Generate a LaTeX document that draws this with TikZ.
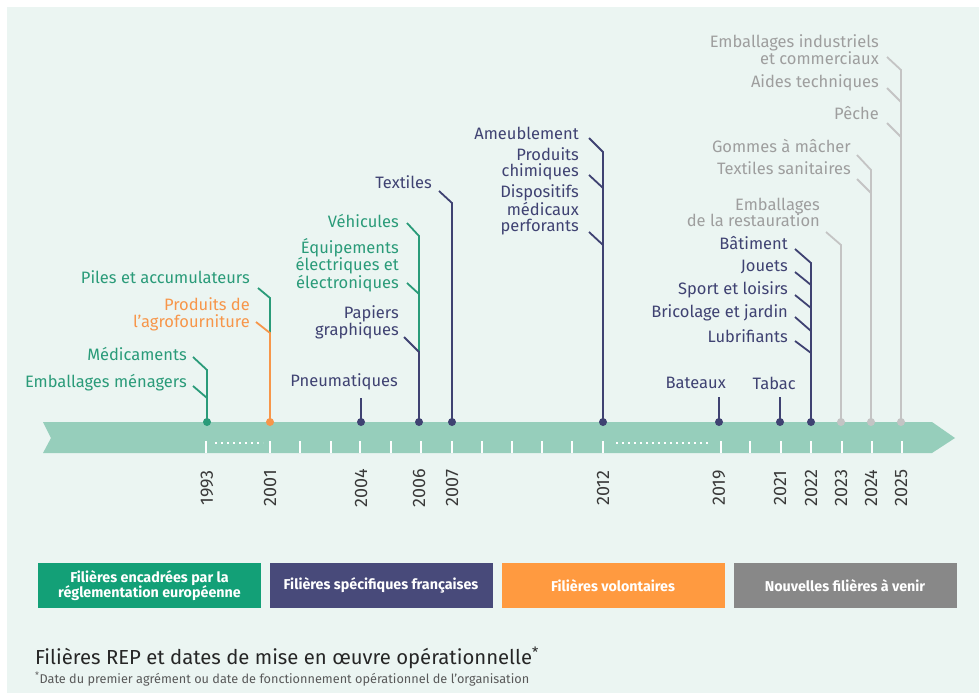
\documentclass[tikz,border=0pt]{standalone}
\usepackage{fontspec}
\setmainfont{Fira Sans}
\definecolor{bg}{HTML}{EBF5F2}
\definecolor{band}{HTML}{96CEBB}
\definecolor{eug}{HTML}{2A9B79}
\definecolor{navy}{HTML}{3F4272}
\definecolor{org}{HTML}{F7964A}
\definecolor{gtxt}{HTML}{9E9E9E}
\definecolor{gln}{HTML}{C4C4C4}
\definecolor{boxg}{HTML}{13A077}
\definecolor{boxn}{HTML}{484A7A}
\definecolor{boxo}{HTML}{FF9A40}
\definecolor{boxgr}{HTML}{888888}
\definecolor{yr}{HTML}{3A3A3A}
\tikzset{
  lbl/.style={anchor=east, inner sep=0pt, align=right, font=\fontsize{16.5}{16.5}\selectfont},
  ldr/.style={line width=1.8pt},
  dotn/.style={circle, inner sep=0pt, minimum size=8pt},
  yearlbl/.style={rotate=90, inner sep=0pt, text=yr, font=\fontsize{18}{18}\selectfont},
  legbox/.style={minimum width=223pt, minimum height=45pt, inner sep=2pt, align=center, text=white, font=\bfseries\fontsize{14.3}{15.5}\selectfont},
  tick/.style={white, line width=1.2pt}
}
\begin{document}
\begin{tikzpicture}[x=1pt,y=-1pt]
\useasboundingbox (0,0) rectangle (979,693);
\fill[white] (0,0) rectangle (979,693);
\fill[bg] (7,7) rectangle (979,693);

% band
\fill[band] (43,422) -- (932,422) -- (955,438) -- (932,453) -- (43,453) -- (51,438) -- cycle;
\foreach \x in {206,270,300,331,360,391,421,452,482,512,542,572,603,721,750,781,811,842,872,902}
  \draw[tick] (\x,441) -- (\x,453);
\draw[white, line width=1.2pt, dash pattern=on 2pt off 4pt] (215,443) -- (263,443);
\draw[white, line width=1.2pt, dash pattern=on 2pt off 4pt] (616,443) -- (709,443);

% years
\foreach \x/\y in {207/1993,270/2001,361/2004,419/2006,452/2007,603/2012,719/2019,780/2021,811/2022,841/2023,871/2024,901/2025}
  \node[yearlbl] (y\y) at (\x,488) {\y};

% dots
\node[dotn, fill=eug] (d1993) at (207,422) {};
\node[dotn, fill=org] (d2001) at (270,422) {};
\node[dotn, fill=navy] (d2004) at (361,422) {};
\node[dotn, fill=navy] (d2006) at (419,422) {};
\node[dotn, fill=navy] (d2007) at (452,422) {};
\node[dotn, fill=navy] (d2012) at (603,422) {};
\node[dotn, fill=navy] (d2019) at (719,422) {};
\node[dotn, fill=navy] (d2021) at (780,422) {};
\node[dotn, fill=navy] (d2022) at (811,422) {};
\node[dotn, fill=gln] (d2023) at (841,422) {};
\node[dotn, fill=gln] (d2024) at (871,422) {};
\node[dotn, fill=gln] (d2025) at (901,422) {};

% ---- 1993
\node[lbl, text=eug] (emb) at (187,383) {Emballages ménagers};
\node[lbl, text=eug] (med) at (187,354) {Médicaments};
\coordinate (bemb) at (207,398);
\coordinate (bmed) at (207,370);
\draw[ldr, eug] ([shift={(6,3)}]emb.east) -- (bemb);
\draw[ldr, eug] ([shift={(6,3)}]med.east) -- (bmed) -- (d1993.center);

% ---- 2001
\node[lbl, text=eug] (piles) at (250,277) {Piles et accumulateurs};
\node[lbl, text=org] (agro) at (250,314.5) {Produits de\\l’agrofourniture};
\coordinate (bpiles) at (270,298);
\coordinate (bagro) at (270,333);
\draw[ldr, eug] ([shift={(8,11)}]piles.east) -- (bpiles) -- (bagro);
\draw[ldr, org] ([shift={(6,7.5)}]agro.east) -- (bagro) -- (d2001.center);

% ---- 2004
\node[lbl, text=navy] (pneu) at (398,382) {Pneumatiques};
\coordinate (bpneu) at (361,398);
\draw[ldr, navy] (bpneu) -- (d2004.center);

% ---- 2006
\node[lbl, text=eug] (vehic) at (399,221) {Véhicules};
\node[lbl, text=eug] (equip) at (399,265) {Équipements\\électriques et\\électroniques};
\node[lbl, text=navy] (pap) at (399,322.5) {Papiers\\graphiques};
\coordinate (bveh) at (419,236);
\coordinate (bequ) at (419,294);
\coordinate (bpap) at (419,352);
\draw[ldr, eug] ([shift={(8,2)}]vehic.east) -- (bveh) -- (bpap);
\draw[ldr, eug] ([shift={(8,18)}]equip.east) -- (bequ);
\draw[ldr, navy] ([shift={(5,14.5)}]pap.east) -- (bpap) -- (d2006.center);

% ---- 2007
\node[lbl, text=navy] (text) at (432,182) {Textiles};
\coordinate (btext) at (452,203);
\draw[ldr, navy] ([shift={(7,9)}]text.east) -- (btext) -- (d2007.center);

% ---- 2012
\node[lbl, text=navy] (ameub) at (579,133) {Ameublement};
\node[lbl, text=navy] (chim) at (579,164) {Produits\\chimiques};
\node[lbl, text=navy] (disp) at (579,210) {Dispositifs\\médicaux\\perforants};
\coordinate (bame) at (603,152);
\coordinate (bchi) at (603,188);
\coordinate (bdis) at (603,245);
\draw[ldr, navy] ([shift={(10,5)}]ameub.east) -- (bame) -- (d2012.center);
\draw[ldr, navy] ([shift={(10,11)}]chim.east) -- (bchi);
\draw[ldr, navy] ([shift={(10,22)}]disp.east) -- (bdis);

% ---- 2019, 2021
\node[lbl, text=navy] (bat) at (726,383) {Bateaux};
\coordinate (bbat) at (719,397);
\draw[ldr, navy] (bbat) -- (d2019.center);
\node[lbl, text=navy] (tab) at (796,383) {Tabac};
\coordinate (btab) at (780,397);
\draw[ldr, navy] (btab) -- (d2021.center);

% ---- 2022
\node[lbl, text=navy] (batim) at (788,243) {Bâtiment};
\node[lbl, text=navy] (jou) at (788,267) {Jouets};
\node[lbl, text=navy] (spo) at (788,290) {Sport et loisirs};
\node[lbl, text=navy] (bri) at (788,313) {Bricolage et jardin};
\node[lbl, text=navy] (lub) at (788,336) {Lubrifiants};
\coordinate (bbatim) at (811,263);
\coordinate (bjou) at (811,285);
\coordinate (bspo) at (811,308);
\coordinate (bbri) at (811,331);
\coordinate (blub) at (811,353);
\draw[ldr, navy] ([shift={(7,6)}]batim.east) -- (bbatim) -- (d2022.center);
\draw[ldr, navy] ([shift={(7,5)}]jou.east) -- (bjou);
\draw[ldr, navy] ([shift={(7,5)}]spo.east) -- (bspo);
\draw[ldr, navy] ([shift={(7,4)}]bri.east) -- (bbri);
\draw[ldr, navy] ([shift={(7,5)}]lub.east) -- (blub);

% ---- 2023
\node[lbl, text=gtxt] (resto) at (820,212.5) {Emballages\\de la restauration};
\coordinate (bresto) at (841,245);
\draw[ldr, gln] ([shift={(6,19.5)}]resto.east) -- (bresto) -- (d2023.center);

% ---- 2024
\node[lbl, text=gtxt] (gom) at (851,146) {Gommes à mâcher};
\node[lbl, text=gtxt] (tsan) at (851,168) {Textiles sanitaires};
\coordinate (bgom) at (871,170);
\coordinate (btsan) at (871,193);
\draw[ldr, gln] ([shift={(6,9)}]gom.east) -- (bgom) -- (d2024.center);
\draw[ldr, gln] ([shift={(6,11)}]tsan.east) -- (btsan);

% ---- 2025
\node[lbl, text=gtxt] (eind) at (879,49.5) {Emballages industriels\\et commerciaux};
\node[lbl, text=gtxt] (aides) at (879,83) {Aides techniques};
\node[lbl, text=gtxt] (pech) at (879,113) {Pêche};
\coordinate (beind) at (901,70);
\coordinate (baid) at (901,102);
\coordinate (bpech) at (901,137);
\draw[ldr, gln] ([shift={(8,7.5)}]eind.east) -- (beind) -- (d2025.center);
\draw[ldr, gln] ([shift={(8,5)}]aides.east) -- (baid);
\draw[ldr, gln] ([shift={(8,10)}]pech.east) -- (bpech);

% legend
\node[legbox, fill=boxg] (leg1) at (149.5,585.5) {Filières encadrées par la\\réglementation européenne};
\node[legbox, fill=boxn] (leg2) at (381,585.5) {Filières spécifiques françaises};
\node[legbox, fill=boxo] (leg3) at (613,585.5) {Filières volontaires};
\node[legbox, fill=boxgr] (leg4) at (845,585.5) {Nouvelles filières à venir};

% footer
\node[anchor=west, inner sep=0pt, text=black!85, font=\fontsize{20.3}{22}\selectfont] (title) at (35,658) {Filières REP et dates de mise en œuvre opérationnelle\textsuperscript{*}};
\node[anchor=west, inner sep=0pt, text=black!65, font=\fontsize{12.7}{14}\selectfont] (note) at (35,679) {\textsuperscript{*}Date du premier agrément ou date de fonctionnement opérationnel de l’organisation};
\end{tikzpicture}
\end{document}
